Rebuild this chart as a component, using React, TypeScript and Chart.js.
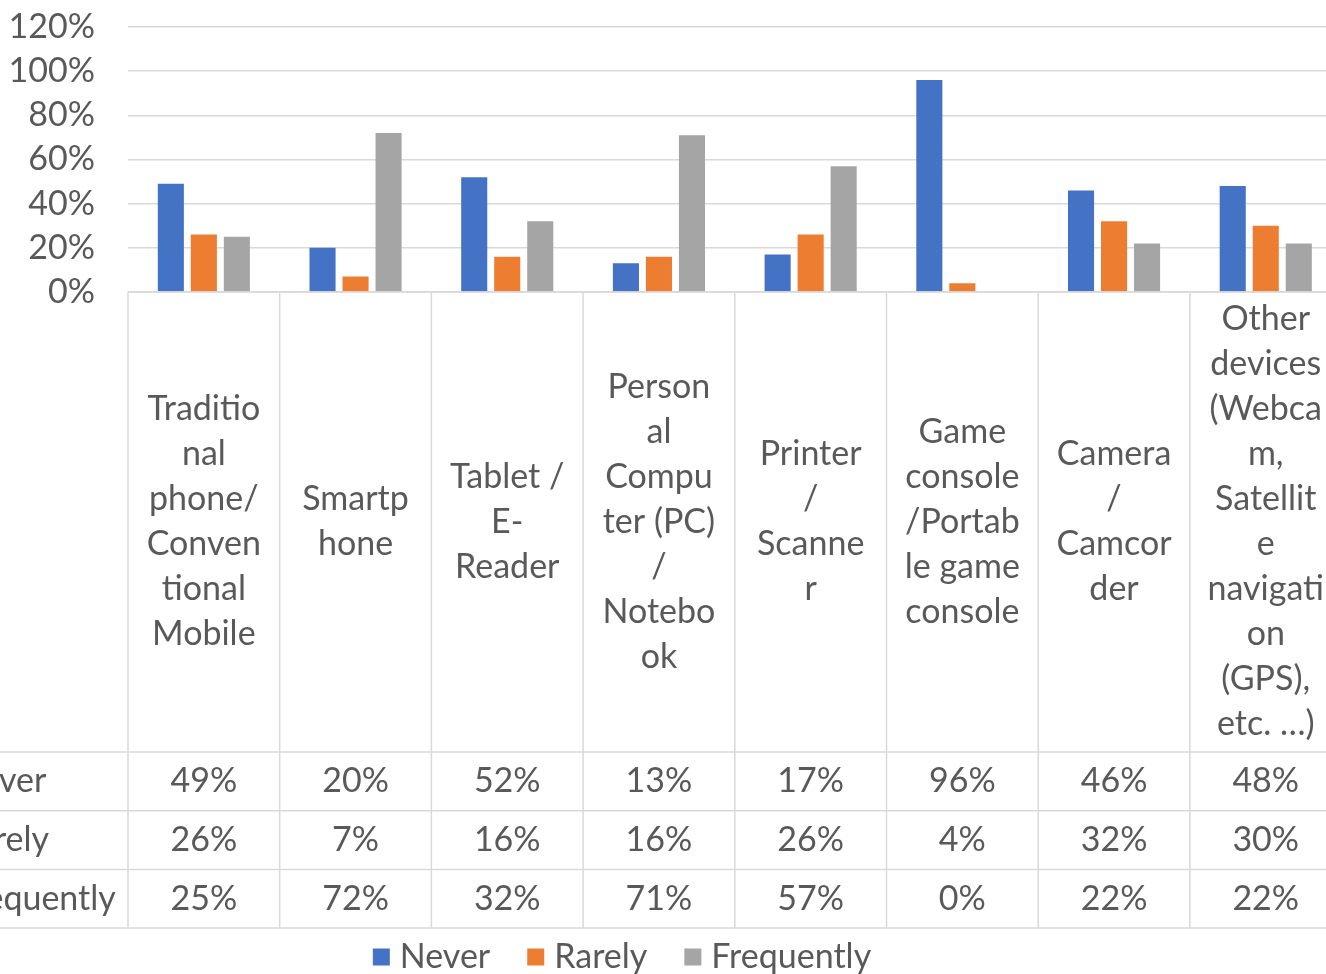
import React, { useEffect, useRef } from "react";
import { Chart, registerables } from "chart.js";

Chart.register(...registerables);

// ---- data ----
const categoryLines: string[][] = [
  ["Traditio", "nal", "phone/", "Conven", "tional", "Mobile"],
  ["Smartp", "hone"],
  ["Tablet /", "E-", "Reader"],
  ["Person", "al", "Compu", "ter (PC)", "/", "Notebo", "ok"],
  ["Printer", "/", "Scanne", "r"],
  ["Game", "console", "/Portab", "le game", "console"],
  ["Camera", "/", "Camcor", "der"],
  ["Other", "devices", "(Webca", "m,", "Satellit", "e", "navigati", "on", "(GPS),", "etc. …)"],
];
const seriesNames = ["Never", "Rarely", "Frequently"];
const never = [49, 20, 52, 13, 17, 96, 46, 48];
const rarely = [26, 7, 16, 16, 26, 4, 32, 30];
const frequently = [25, 72, 32, 71, 57, 0, 22, 22];
const seriesColors = ["#4472C4", "#ED7D31", "#A5A5A5"];
const yMin = 0;
const yMax = 120;
const yStep = 20;

// ---- style / layout ----
const FONT_FAMILY = "Lato, 'Noto Sans', sans-serif";
const FONT_SIZE = 34;
const TEXT_COLOR = "#595959";
const GRID_COLOR = "#D9D9D9";
const SHIFT_X = 60; // canvas starts left of the viewport
const CANVAS_W = 1410;
const CANVAS_H = 990;
const PAD_TOP = 27;
const PLOT_BOTTOM = 292;
const PLOT_LEFT = 128 + SHIFT_X;
const PLOT_RIGHT = 1341.6 + SHIFT_X;
const LABEL_CELL_BOTTOM = 752;
const ROW_H = 58.7;
const LINE_H = 45;
const ROW_LABEL_X = -44 + SHIFT_X;
const LEGEND_Y = 957;
const LEGEND_CENTER_X = 622 + SHIFT_X;

const tablePlugin = {
  id: "dataTable",
  afterDraw(chart: any) {
    const { ctx, chartArea } = chart;
    const xs = chart.scales.x;
    const n = categoryLines.length;
    const left = chartArea.left;
    const right = chartArea.right;
    const bottom = chartArea.bottom;
    const catW = (right - left) / n;
    const tableBottom = LABEL_CELL_BOTTOM + ROW_H * 3;
    const font = `${FONT_SIZE}px ${FONT_FAMILY}`;
    const datasets = [never, rarely, frequently];

    ctx.save();
    ctx.strokeStyle = GRID_COLOR;
    ctx.lineWidth = 1.5;
    ctx.beginPath();
    ctx.moveTo(left, bottom);
    ctx.lineTo(right, bottom);
    ctx.stroke();
    for (let i = 0; i <= n; i++) {
      const x = left + i * catW;
      ctx.beginPath();
      ctx.moveTo(x, bottom);
      ctx.lineTo(x, tableBottom);
      ctx.stroke();
    }
    for (let r = 0; r <= 3; r++) {
      const y = LABEL_CELL_BOTTOM + r * ROW_H;
      ctx.beginPath();
      ctx.moveTo(0, y);
      ctx.lineTo(right, y);
      ctx.stroke();
    }

    ctx.fillStyle = TEXT_COLOR;
    ctx.font = font;
    ctx.textBaseline = "middle";
    ctx.textAlign = "center";
    const midY = (bottom + LABEL_CELL_BOTTOM) / 2;
    categoryLines.forEach((lines, i) => {
      const cx = xs.getPixelForValue(i);
      const startY = midY - ((lines.length - 1) * LINE_H) / 2;
      lines.forEach((ln, k) => ctx.fillText(ln, cx, startY + k * LINE_H));
    });
    datasets.forEach((vals, r) => {
      const cy = LABEL_CELL_BOTTOM + (r + 0.5) * ROW_H;
      vals.forEach((v, i) => {
        ctx.fillText(`${v}%`, xs.getPixelForValue(i), cy);
      });
    });
    ctx.textAlign = "left";
    seriesNames.forEach((name, r) => {
      const cy = LABEL_CELL_BOTTOM + (r + 0.5) * ROW_H;
      ctx.fillText(name, ROW_LABEL_X, cy);
    });

    const box = 17;
    const gapBoxText = 10;
    const gapItems = 37;
    const widths = seriesNames.map((s) => ctx.measureText(s).width);
    const total =
      widths.reduce((a, w) => a + box + gapBoxText + w, 0) + gapItems * (seriesNames.length - 1);
    let x = LEGEND_CENTER_X - total / 2;
    seriesNames.forEach((s, i) => {
      ctx.fillStyle = seriesColors[i];
      ctx.fillRect(x, LEGEND_Y - box / 2, box, box);
      x += box + gapBoxText;
      ctx.fillStyle = TEXT_COLOR;
      ctx.fillText(s, x, LEGEND_Y);
      x += widths[i] + gapItems;
    });
    ctx.restore();
  },
};

export default function App() {
  const ref = useRef<HTMLCanvasElement | null>(null);

  useEffect(() => {
    if (!ref.current) return;
    const chart = new Chart(ref.current, {
      type: "bar",
      data: {
        labels: categoryLines.map((l) => l.join("")),
        datasets: [never, rarely, frequently].map((d, i) => ({
          label: seriesNames[i],
          data: d,
          backgroundColor: seriesColors[i],
          borderWidth: 0,
          categoryPercentage: 0.653,
          barPercentage: 0.79,
        })),
      },
      options: {
        responsive: false,
        animation: false,
        layout: {
          padding: {
            top: PAD_TOP,
            bottom: CANVAS_H - PLOT_BOTTOM,
            left: 0,
            right: CANVAS_W - PLOT_RIGHT,
          },
        },
        plugins: {
          legend: { display: false },
          tooltip: { enabled: false },
        },
        scales: {
          x: {
            display: false,
          },
          y: {
            min: yMin,
            max: yMax,
            ticks: {
              stepSize: yStep,
              padding: 33,
              color: TEXT_COLOR,
              font: { family: FONT_FAMILY, size: FONT_SIZE },
              callback: (v: any) => `${v}%`,
            },
            grid: {
              color: GRID_COLOR,
              lineWidth: 1.5,
              drawTicks: false,
            },
            border: { display: false },
            afterFit: (s: any) => {
              s.width = PLOT_LEFT;
              s.paddingTop = 0;
              s.paddingBottom = 0;
            },
          },
        },
      },
      plugins: [tablePlugin],
    });
    return () => chart.destroy();
  }, []);

  return (
    <div
      style={{
        position: "fixed",
        left: 0,
        top: 0,
        width: "100vw",
        height: "100vh",
        overflow: "hidden",
        background: "#fff",
      }}
    >
      <canvas
        ref={ref}
        width={CANVAS_W}
        height={CANVAS_H}
        style={{ position: "absolute", left: -SHIFT_X, top: 0, width: CANVAS_W, height: CANVAS_H }}
      />
    </div>
  );
}
